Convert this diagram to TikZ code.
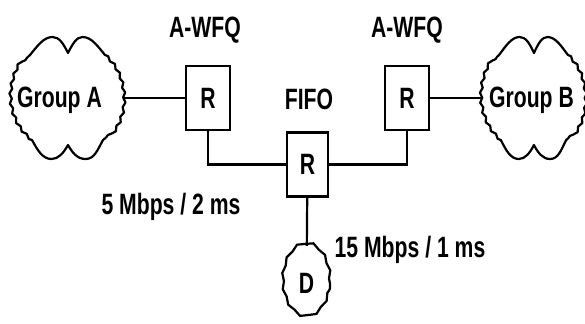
\documentclass[tikz,border=0pt]{standalone}
\usepackage{fontspec}
\setmainfont{Liberation Sans}[FakeStretch=0.72]
\usetikzlibrary{shapes,positioning,decorations.pathmorphing}

\begin{document}
\begin{tikzpicture}[
    x=0.5pt, y=-0.5pt,
    line width=1.1pt,
    font=\fontsize{14.7}{16}\selectfont\bfseries,
    router/.style={rectangle, draw, minimum width=22pt, minimum height=32pt, inner sep=0pt},
    cloudbox/.style={ellipse, inner sep=0pt, minimum width=54.5pt, minimum height=61pt},
    dest/.style={ellipse, draw, inner sep=0pt, minimum width=23.5pt, minimum height=36.5pt, decorate, decoration={snake, amplitude=0.5pt, segment length=8pt}},
    cloudedge/.style={line cap=round, line join=round},
    cloudside/.style={cloudedge, decorate, decoration={snake, amplitude=0.6pt, segment length=5pt}},
    tag/.style={inner sep=0pt, anchor=base},
    cloudshape/.pic={
        % upper lobes
        \draw[cloudedge] (-37.5,-43) .. controls (-30,-52) and (-24,-61) .. (-15,-61)
            .. controls (-8,-61) and (-4,-54) .. (0.5,-45)
            .. controls (5,-54) and (9,-61) .. (15,-61)
            .. controls (24,-61) and (30,-52) .. (37.5,-43);
        % right side
        \draw[cloudside] (37.5,-43) .. controls (50,-32) and (55,-15) .. (55,0)
            .. controls (55,15) and (48,32) .. (35.5,42);
        % lower lobes
        \draw[cloudedge] (35.5,42) .. controls (30,52) and (27,61) .. (18,61)
            .. controls (10,61) and (5,55) .. (0.5,47)
            .. controls (-4,55) and (-9,61) .. (-16,61)
            .. controls (-25,61) and (-30,52) .. (-35.5,42);
        % left side
        \draw[cloudside] (-35.5,42) .. controls (-48,32) and (-55,15) .. (-55,0)
            .. controls (-55,-15) and (-50,-32) .. (-37.5,-43);
    }
]
\useasboundingbox (0,0) rectangle (585,323);

% Groups
\node[cloudbox, label={[xshift=-4pt, yshift=-1pt]center:Group A}] (grpA) at (67.5,98) {};
\node[cloudbox, minimum width=50.5pt, label={[xshift=-1pt, yshift=-1pt]center:Group B}] (grpB) at (533.5,98) {};
\pic at (grpA.center) {cloudshape};
\pic[xscale=0.92] at (grpB.center) {cloudshape};

% Routers
\node[router] (rA) at (208,98) {R};
\node[router] (rB) at (407,98) {R};
\node[router, minimum width=20.5pt] (rC) at (307.5,164.5) {R};

% Destination
\node[dest] (dst) at (306.5,283.5) {D};

% Labels
\node[tag] (wfqA) at (205,37) {A-WFQ};
\node[tag] (wfqB) at (407,37) {A-WFQ};
\node[tag] (fifo) at (309,109) {FIFO};
\node[tag] (bwA) at (171,214) {5 Mbps / 2 ms};
\node[tag] (bwD) at (410,257) {15 Mbps / 1 ms};

% Links
\draw (grpA) -- (rA);
\draw (rB) -- (grpB);
\draw (rA.south) |- (rC.west);
\draw (rB.south) |- (rC.east);
\draw (rC) -- (dst);

\end{tikzpicture}
\end{document}
